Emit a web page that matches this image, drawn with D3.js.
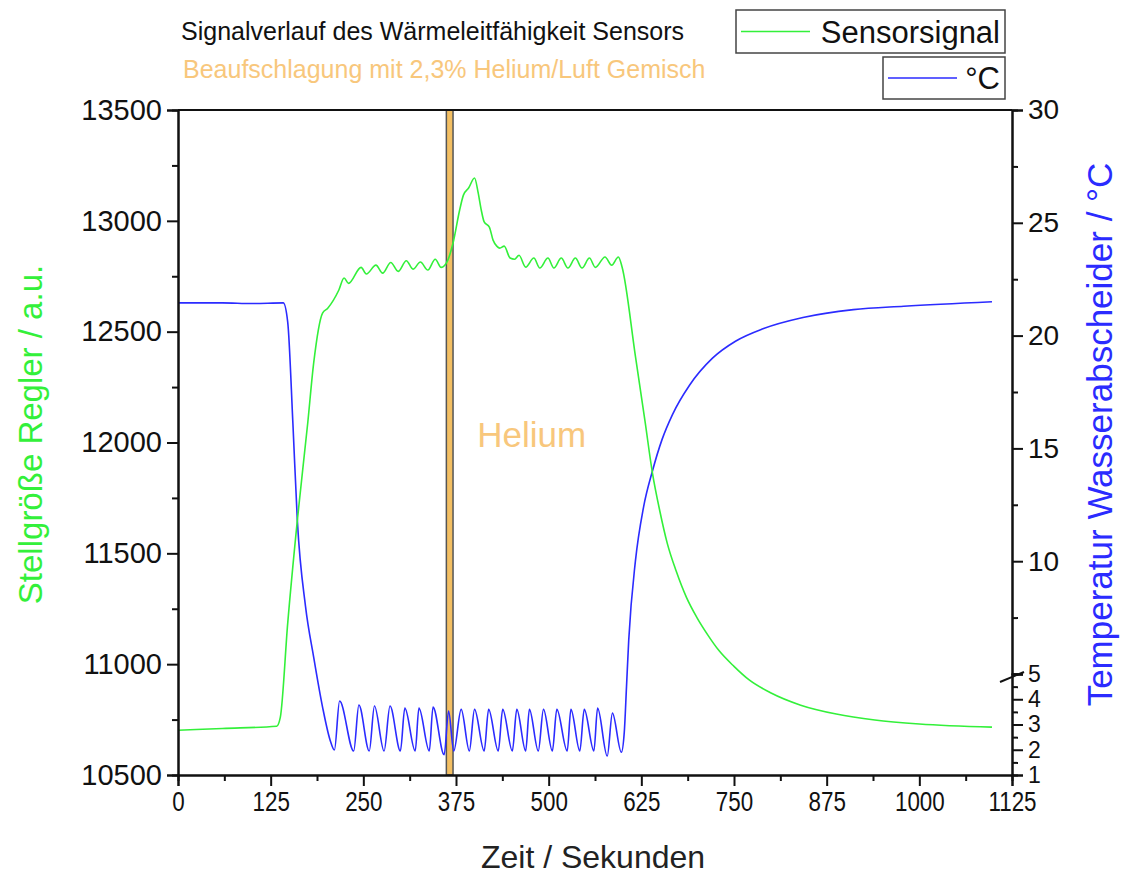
<!DOCTYPE html>
<html>
<head>
<meta charset="utf-8">
<script src="https://cdn.jsdelivr.net/npm/d3@7"></script>
<style>
  body { margin: 0; background: #fff; }
  text { font-family: "Liberation Sans", Arial, sans-serif; }
</style>
</head>
<body>
<div id="chart"></div>
<script>
// Sensorsignal (linke Achse)
var sensorTime = [0, 60, 133, 138, 148, 161, 175, 183, 195, 202, 217, 224, 230, 247, 254, 267, 276, 287, 297, 308, 317, 327, 337, 347, 355, 364, 371, 380, 385, 392, 400, 405, 409, 413, 420, 425, 430, 434, 440, 448, 454, 460, 469, 480, 488, 499, 507, 517, 526, 536, 545, 555, 563, 576, 585, 594, 599, 617, 630, 640, 650, 660, 672, 686, 700, 715, 730, 750, 770, 800, 840, 888, 940, 1000, 1098];
var sensorValue = [10702, 10710, 10720, 10760, 11185, 11650, 12088, 12358, 12584, 12606, 12688, 12742, 12718, 12790, 12760, 12800, 12764, 12812, 12772, 12820, 12782, 12814, 12778, 12827, 12790, 12823, 12900, 13050, 13116, 13148, 13193, 13125, 13050, 12995, 12972, 12913, 12886, 12877, 12886, 12832, 12827, 12845, 12791, 12832, 12787, 12832, 12787, 12832, 12787, 12832, 12787, 12832, 12790, 12837, 12800, 12837, 12792, 12390, 12095, 11862, 11690, 11545, 11420, 11300, 11210, 11130, 11060, 10990, 10930, 10870, 10815, 10775, 10748, 10730, 10716];

// Temperatur Wasserabscheider (rechte Achse, gebrochen bei 5)
var tempTime = [0, 60, 100, 142, 148, 155, 161, 172, 183, 195, 205, 211, 218, 237, 244, 258, 265, 278, 286, 300, 306, 320, 325, 339, 344, 359, 365, 372, 382, 393, 400, 413, 419, 432, 438, 451, 457, 469, 474, 486, 493, 505, 511, 525, 530, 542, 548, 561, 566, 579, 586, 598, 602, 605, 608, 617, 628, 640, 653, 667, 690, 721, 752, 789, 843, 911, 979, 1098];
var tempValue = [21.45, 21.45, 21.42, 21.45, 20.6, 16.1, 11.8, 8.0, 5.75, 3.69, 2.4, 1.99, 3.93, 1.95, 3.77, 1.95, 3.73, 1.95, 3.73, 1.95, 3.65, 1.95, 3.65, 1.95, 3.69, 1.8, 3.53, 1.95, 3.6, 1.95, 3.6, 1.95, 3.6, 1.95, 3.6, 1.95, 3.6, 1.95, 3.6, 1.95, 3.6, 1.95, 3.6, 1.95, 3.6, 1.95, 3.6, 1.95, 3.65, 1.75, 3.45, 1.9, 2.7, 4.5, 6.5, 10.0, 12.4, 14.0, 15.4, 16.5, 17.8, 19.0, 19.75, 20.3, 20.8, 21.15, 21.3, 21.5];

var xTicks = [0, 125, 250, 375, 500, 625, 750, 875, 1000, 1125];
var leftTicks = [10500, 11000, 11500, 12000, 12500, 13000, 13500];
var rightTicksHigh = [10, 15, 20, 25, 30];
var rightTicksLow = [1, 2, 3, 4, 5];
var heliumBand = [362, 371];

var margin = { top: 110, right: 109, bottom: 101, left: 178 },
  width = 1121 - margin.left - margin.right,
  height = 876 - margin.top - margin.bottom;

var svg = d3.select("#chart")
  .append("svg")
  .attr("width", 1121)
  .attr("height", 876);

var g = svg.append("g")
  .attr("transform", "translate(" + margin.left + "," + margin.top + ")");

var x = d3.scaleLinear().domain([0, 1125]).range([0, width]);
var yLeft = d3.scaleLinear().domain([10500, 13500]).range([height, 0]);

// rechte Achse: zwei Abschnitte
var breakY = 564;
var yHigh = d3.scaleLinear().domain([5, 30]).range([breakY, 0]);
var yLow = d3.scaleLinear().domain([1, 5]).range([height, breakY]);
var yTemp = function(v) { return v >= 5 ? yHigh(v) : yLow(v); };

var green = "#33f03a", blue = "#2b2bff", orange = "#f8c77c";

// Helium Bereich
g.append("rect")
  .attr("x", x(heliumBand[0]))
  .attr("y", 0)
  .attr("width", x(heliumBand[1]) - x(heliumBand[0]))
  .attr("height", height)
  .attr("fill", "#f3bf63")
  .attr("stroke", "#555")
  .attr("stroke-width", 1.5);

// Linien
var sensorData = sensorTime.map(function(t, i) { return { t: t, v: sensorValue[i] }; });
var tempData = tempTime.map(function(t, i) { return { t: t, v: tempValue[i] }; });

g.append("path")
  .datum(tempData)
  .attr("fill", "none")
  .attr("stroke", blue)
  .attr("stroke-width", 1.6)
  .attr("d", d3.line()
    .x(function(d) { return x(d.t); })
    .y(function(d) { return yTemp(d.v); })
    .curve(d3.curveMonotoneX));

g.append("path")
  .datum(sensorData)
  .attr("fill", "none")
  .attr("stroke", green)
  .attr("stroke-width", 1.6)
  .attr("d", d3.line()
    .x(function(d) { return x(d.t); })
    .y(function(d) { return yLeft(d.v); })
    .curve(d3.curveMonotoneX));

// Achsen
var styleAxis = function(sel) {
  sel.select(".domain").attr("stroke", "#111").attr("stroke-width", 2);
  sel.selectAll(".tick line").attr("stroke", "#111").attr("stroke-width", 2);
  sel.selectAll(".tick text").attr("fill", "#111").attr("font-size", "28px")
    .attr("font-family", "Liberation Sans, Arial, sans-serif");
};

// Nebenteilstriche
var xMinor = xTicks.slice(0, -1).map(function(d) { return d + 62.5; });
g.append("g")
  .attr("transform", "translate(0," + height + ")")
  .call(d3.axisBottom(x).tickValues(xMinor).tickSize(6).tickFormat(""))
  .call(styleAxis);

var leftMinor = leftTicks.slice(0, -1).map(function(d) { return d + 250; });
g.append("g")
  .call(d3.axisLeft(yLeft).tickValues(leftMinor).tickSize(6).tickFormat(""))
  .call(styleAxis);

g.append("g")
  .attr("transform", "translate(" + width + ",0)")
  .call(d3.axisRight(yHigh).tickValues([7.5, 12.5, 17.5, 22.5, 27.5]).tickSize(6).tickFormat(""))
  .call(styleAxis);

g.append("g")
  .attr("transform", "translate(" + width + ",0)")
  .call(d3.axisRight(yLow).tickValues([1.5, 2.5, 3.5, 4.5]).tickSize(6).tickFormat(""))
  .call(styleAxis);

// Hauptteilstriche
var xAxis = g.append("g")
  .attr("transform", "translate(0," + height + ")")
  .call(d3.axisBottom(x).tickValues(xTicks).tickSize(11).tickPadding(5).tickFormat(d3.format("d")))
  .call(styleAxis);
xAxis.selectAll(".tick text").attr("transform", "scale(0.8,1)");

g.append("g")
  .call(d3.axisLeft(yLeft).tickValues(leftTicks).tickSize(11).tickPadding(5).tickFormat(d3.format("d")))
  .call(styleAxis)
  .selectAll(".tick text").attr("font-size", "29px");

g.append("g")
  .attr("transform", "translate(" + width + ",0)")
  .call(d3.axisRight(yHigh).tickValues(rightTicksHigh).tickSize(11).tickPadding(5).tickFormat(d3.format("d")))
  .call(styleAxis);

g.append("g")
  .attr("transform", "translate(" + width + ",0)")
  .call(d3.axisRight(yLow).tickValues(rightTicksLow).tickSize(11).tickPadding(5).tickFormat(d3.format("d")))
  .call(styleAxis)
  .selectAll(".tick text").attr("font-size", "23px");

// obere Rahmenlinie
g.append("line")
  .attr("x1", 0).attr("x2", width)
  .attr("y1", 0).attr("y2", 0)
  .attr("stroke", "#111").attr("stroke-width", 2);

// Achsenbruch
g.append("line")
  .attr("x1", width - 12).attr("y1", breakY + 8)
  .attr("x2", width + 12).attr("y2", breakY - 2)
  .attr("stroke", "#111").attr("stroke-width", 2);

// Beschriftungen
g.append("text")
  .attr("x", 593 - margin.left)
  .attr("y", height + 93)
  .attr("text-anchor", "middle")
  .attr("font-size", "32px")
  .attr("fill", "#222")
  .text("Zeit / Sekunden");

g.append("text")
  .attr("transform", "translate(" + (-148) + "," + (height / 2 - 8) + ")rotate(-90)")
  .attr("dy", "0.35em")
  .attr("text-anchor", "middle")
  .attr("font-size", "33px")
  .attr("fill", green)
  .text("Stellgröße Regler / a.u.");

g.append("text")
  .attr("transform", "translate(" + (width + 88) + "," + (height / 2 - 8) + ")rotate(-90)")
  .attr("dy", "0.35em")
  .attr("text-anchor", "middle")
  .attr("font-size", "35px")
  .attr("fill", blue)
  .text("Temperatur Wasserabscheider / °C");

g.append("text")
  .attr("x", x(477))
  .attr("y", yLeft(11980))
  .attr("text-anchor", "middle")
  .attr("font-size", "35px")
  .attr("fill", orange)
  .text("Helium");

// Titel
svg.append("text")
  .attr("x", 181).attr("y", 40)
  .attr("font-size", "25px")
  .attr("fill", "#111")
  .text("Signalverlauf des Wärmeleitfähigkeit Sensors");

svg.append("text")
  .attr("x", 183).attr("y", 78)
  .attr("font-size", "25px")
  .attr("fill", orange)
  .text("Beaufschlagung mit 2,3% Helium/Luft Gemisch");

// Legende
var legends = [
  { name: "Sensorsignal", color: green, x: 736, y: 10, w: 269, h: 43 },
  { name: "°C", color: blue, x: 883, y: 57, w: 122, h: 42 }
];
legends.forEach(function(l) {
  var lg = svg.append("g").attr("transform", "translate(" + l.x + "," + l.y + ")");
  lg.append("rect")
    .attr("width", l.w).attr("height", l.h)
    .attr("fill", "#fff").attr("stroke", "#444").attr("stroke-width", 1.5);
  lg.append("line")
    .attr("x1", 5).attr("x2", 74)
    .attr("y1", l.h / 2).attr("y2", l.h / 2)
    .attr("stroke", l.color).attr("stroke-width", 1.6);
  lg.append("text")
    .attr("x", l.w - 5).attr("y", l.h / 2 + 11)
    .attr("text-anchor", "end")
    .attr("font-size", "31px")
    .attr("fill", "#111")
    .text(l.name);
});
</script>
</body>
</html>
